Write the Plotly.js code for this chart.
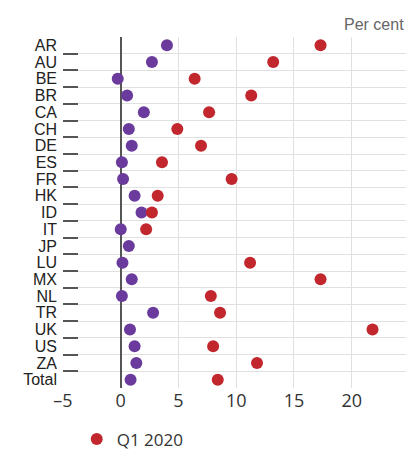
<!DOCTYPE html>
<html>
<head>
<meta charset="utf-8">
<script src="https://cdn.plot.ly/plotly-3.0.1.min.js"></script>
<style>html,body{margin:0;padding:0;background:#fff;}#chart{width:406px;height:453px;}</style>
</head>
<body>
<div id="chart"></div>
<script>
var categories = ["AR","AU","BE","BR","CA","CH","DE","ES","FR","HK","ID","IT","JP","LU","MX","NL","TR","UK","US","ZA","Total"];
var q1_2020 = [17.3,13.2,6.4,11.3,7.65,4.9,6.95,3.57,9.6,3.2,2.7,2.2,null,11.2,17.3,7.8,8.6,21.8,8.0,11.8,8.4];
var otherSeries = [4.0,2.7,-0.26,0.55,2.0,0.7,0.95,0.1,0.2,1.2,1.8,0.0,0.7,0.15,0.95,0.1,2.8,0.8,1.2,1.35,0.85];
var xTicks = [-5,0,5,10,15,20];

var traces = [
  {type:"scatter", mode:"markers", name:"Other", x: otherSeries, y: categories,
   marker:{color:"#6a3a9c", size:12}, showlegend:false, hoverinfo:"x+y"},
  {type:"scatter", mode:"markers", name:"Q1 2020", x: q1_2020, y: categories,
   marker:{color:"#c1272d", size:12}, hoverinfo:"x+y"}
];

var layout = {
  width:406, height:453,
  margin:{l:63, r:0, t:37, b:65, pad:0},
  paper_bgcolor:"#fff", plot_bgcolor:"#fff",
  showlegend:true,
  legend:{orientation:"h", x:0.04, xanchor:"left", yref:"container", y:0.03, yanchor:"middle",
          font:{family:"Open Sans, sans-serif", size:17, color:"#333"}},
  xaxis:{range:[-5,24.7], tickvals:xTicks, ticktext:xTicks.map(function(v){return v<0?"\u2013"+Math.abs(v):String(v);}),
         showgrid:true, gridcolor:"#e0e0e0", gridwidth:1, automargin:false,
         zeroline:true, zerolinecolor:"#555", zerolinewidth:2,
         showline:false, ticks:"", fixedrange:true, ticklabelstandoff:0,
         tickfont:{family:"Open Sans, sans-serif", size:18, color:"#333"}},
  yaxis:{type:"category", categoryorder:"array", categoryarray:categories,
         range:[categories.length-0.5, -0.5], autorange:false,
         tickmode:"array", tickvals:categories, ticktext:categories, automargin:false,
         tickson:"boundaries", ticks:"inside", ticklen:15, tickwidth:2, tickcolor:"#555",
         showgrid:true, gridcolor:"#e0e0e0", gridwidth:1,
         showline:false, zeroline:false, ticklabelstandoff:5,
         tickfont:{family:"Liberation Sans Narrow, sans-serif", size:16, color:"#222"}},
  annotations:[{text:"Per cent", xref:"paper", yref:"paper", x:1, y:1, xanchor:"right", yanchor:"bottom",
                yshift:2, showarrow:false, font:{family:"Liberation Sans, Arial, sans-serif", size:16, color:"#666"}}]
};

Plotly.newPlot("chart", traces, layout, {displayModeBar:false, staticPlot:true});
</script>
</body>
</html>
